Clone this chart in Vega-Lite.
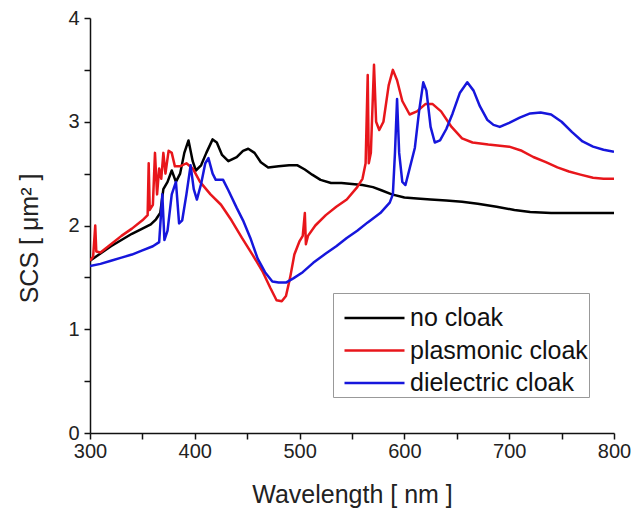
{
  "$schema": "https://vega.github.io/schema/vega-lite/v6.json",
  "width": 524,
  "height": 415,
  "autosize": {"type": "none"},
  "padding": {"left": 90, "top": 18, "right": 19, "bottom": 75},
  "background": "white",
  "config": {
    "view": {"stroke": null},
    "font": "Liberation Sans",
    "axis": {
      "domainColor": "#111",
      "domainWidth": 1.5,
      "tickColor": "#111",
      "tickWidth": 1.5,
      "tickSize": 6,
      "grid": false,
      "labelFont": "Liberation Sans",
      "labelFontSize": 20,
      "labelColor": "#222",
      "titleFont": "Liberation Sans",
      "titleFontSize": 25,
      "titleFontWeight": "normal",
      "titleColor": "#222"
    }
  },
  "data": {
    "values": [
      {"w": 300, "s": 1.66, "c": "no cloak"},
      {"w": 310, "s": 1.73, "c": "no cloak"},
      {"w": 320, "s": 1.8, "c": "no cloak"},
      {"w": 330, "s": 1.86, "c": "no cloak"},
      {"w": 340, "s": 1.92, "c": "no cloak"},
      {"w": 350, "s": 1.97, "c": "no cloak"},
      {"w": 358, "s": 2.01, "c": "no cloak"},
      {"w": 363, "s": 2.06, "c": "no cloak"},
      {"w": 367, "s": 2.12, "c": "no cloak"},
      {"w": 370, "s": 2.35, "c": "no cloak"},
      {"w": 374, "s": 2.42, "c": "no cloak"},
      {"w": 378, "s": 2.53, "c": "no cloak"},
      {"w": 382, "s": 2.42, "c": "no cloak"},
      {"w": 386, "s": 2.5, "c": "no cloak"},
      {"w": 390, "s": 2.7, "c": "no cloak"},
      {"w": 394, "s": 2.82, "c": "no cloak"},
      {"w": 398, "s": 2.62, "c": "no cloak"},
      {"w": 401, "s": 2.53, "c": "no cloak"},
      {"w": 406, "s": 2.58, "c": "no cloak"},
      {"w": 411, "s": 2.7, "c": "no cloak"},
      {"w": 417, "s": 2.83, "c": "no cloak"},
      {"w": 421, "s": 2.8, "c": "no cloak"},
      {"w": 426, "s": 2.68, "c": "no cloak"},
      {"w": 432, "s": 2.62, "c": "no cloak"},
      {"w": 440, "s": 2.66, "c": "no cloak"},
      {"w": 446, "s": 2.72, "c": "no cloak"},
      {"w": 451, "s": 2.74, "c": "no cloak"},
      {"w": 457, "s": 2.7, "c": "no cloak"},
      {"w": 463, "s": 2.61, "c": "no cloak"},
      {"w": 470, "s": 2.56, "c": "no cloak"},
      {"w": 480, "s": 2.57, "c": "no cloak"},
      {"w": 490, "s": 2.58, "c": "no cloak"},
      {"w": 498, "s": 2.58, "c": "no cloak"},
      {"w": 505, "s": 2.54, "c": "no cloak"},
      {"w": 512, "s": 2.49, "c": "no cloak"},
      {"w": 520, "s": 2.44, "c": "no cloak"},
      {"w": 530, "s": 2.41, "c": "no cloak"},
      {"w": 540, "s": 2.41, "c": "no cloak"},
      {"w": 550, "s": 2.4, "c": "no cloak"},
      {"w": 560, "s": 2.39, "c": "no cloak"},
      {"w": 570, "s": 2.37, "c": "no cloak"},
      {"w": 578, "s": 2.34, "c": "no cloak"},
      {"w": 588, "s": 2.3, "c": "no cloak"},
      {"w": 600, "s": 2.27, "c": "no cloak"},
      {"w": 612, "s": 2.26, "c": "no cloak"},
      {"w": 625, "s": 2.25, "c": "no cloak"},
      {"w": 640, "s": 2.24, "c": "no cloak"},
      {"w": 655, "s": 2.23, "c": "no cloak"},
      {"w": 670, "s": 2.21, "c": "no cloak"},
      {"w": 688, "s": 2.18, "c": "no cloak"},
      {"w": 705, "s": 2.15, "c": "no cloak"},
      {"w": 720, "s": 2.13, "c": "no cloak"},
      {"w": 740, "s": 2.12, "c": "no cloak"},
      {"w": 760, "s": 2.12, "c": "no cloak"},
      {"w": 780, "s": 2.12, "c": "no cloak"},
      {"w": 800, "s": 2.12, "c": "no cloak"},

      {"w": 300, "s": 1.66, "c": "plasmonic cloak"},
      {"w": 303, "s": 1.7, "c": "plasmonic cloak"},
      {"w": 305, "s": 2.0, "c": "plasmonic cloak"},
      {"w": 306, "s": 1.75, "c": "plasmonic cloak"},
      {"w": 310, "s": 1.74, "c": "plasmonic cloak"},
      {"w": 320, "s": 1.82, "c": "plasmonic cloak"},
      {"w": 330, "s": 1.9, "c": "plasmonic cloak"},
      {"w": 340, "s": 1.97, "c": "plasmonic cloak"},
      {"w": 350, "s": 2.05, "c": "plasmonic cloak"},
      {"w": 355, "s": 2.1, "c": "plasmonic cloak"},
      {"w": 356, "s": 2.6, "c": "plasmonic cloak"},
      {"w": 357, "s": 2.15, "c": "plasmonic cloak"},
      {"w": 360, "s": 2.2, "c": "plasmonic cloak"},
      {"w": 362, "s": 2.7, "c": "plasmonic cloak"},
      {"w": 364, "s": 2.3, "c": "plasmonic cloak"},
      {"w": 366, "s": 2.55, "c": "plasmonic cloak"},
      {"w": 368, "s": 2.45, "c": "plasmonic cloak"},
      {"w": 370, "s": 2.7, "c": "plasmonic cloak"},
      {"w": 372, "s": 2.5, "c": "plasmonic cloak"},
      {"w": 375, "s": 2.72, "c": "plasmonic cloak"},
      {"w": 378, "s": 2.7, "c": "plasmonic cloak"},
      {"w": 381, "s": 2.57, "c": "plasmonic cloak"},
      {"w": 386, "s": 2.57, "c": "plasmonic cloak"},
      {"w": 392, "s": 2.6, "c": "plasmonic cloak"},
      {"w": 398, "s": 2.55, "c": "plasmonic cloak"},
      {"w": 405, "s": 2.42, "c": "plasmonic cloak"},
      {"w": 415, "s": 2.3, "c": "plasmonic cloak"},
      {"w": 425, "s": 2.2, "c": "plasmonic cloak"},
      {"w": 435, "s": 2.05, "c": "plasmonic cloak"},
      {"w": 445, "s": 1.88, "c": "plasmonic cloak"},
      {"w": 455, "s": 1.72, "c": "plasmonic cloak"},
      {"w": 465, "s": 1.55, "c": "plasmonic cloak"},
      {"w": 472, "s": 1.4, "c": "plasmonic cloak"},
      {"w": 478, "s": 1.28, "c": "plasmonic cloak"},
      {"w": 483, "s": 1.27, "c": "plasmonic cloak"},
      {"w": 487, "s": 1.32, "c": "plasmonic cloak"},
      {"w": 491, "s": 1.5, "c": "plasmonic cloak"},
      {"w": 495, "s": 1.72, "c": "plasmonic cloak"},
      {"w": 500, "s": 1.85, "c": "plasmonic cloak"},
      {"w": 503, "s": 1.9, "c": "plasmonic cloak"},
      {"w": 505, "s": 2.12, "c": "plasmonic cloak"},
      {"w": 506, "s": 1.82, "c": "plasmonic cloak"},
      {"w": 508, "s": 1.9, "c": "plasmonic cloak"},
      {"w": 515, "s": 2.0, "c": "plasmonic cloak"},
      {"w": 525, "s": 2.1, "c": "plasmonic cloak"},
      {"w": 535, "s": 2.18, "c": "plasmonic cloak"},
      {"w": 545, "s": 2.25, "c": "plasmonic cloak"},
      {"w": 555, "s": 2.37, "c": "plasmonic cloak"},
      {"w": 560, "s": 2.45, "c": "plasmonic cloak"},
      {"w": 563, "s": 2.6, "c": "plasmonic cloak"},
      {"w": 565, "s": 3.45, "c": "plasmonic cloak"},
      {"w": 566, "s": 2.6, "c": "plasmonic cloak"},
      {"w": 568, "s": 2.7, "c": "plasmonic cloak"},
      {"w": 571, "s": 3.55, "c": "plasmonic cloak"},
      {"w": 573, "s": 3.0, "c": "plasmonic cloak"},
      {"w": 576, "s": 2.92, "c": "plasmonic cloak"},
      {"w": 580, "s": 3.0, "c": "plasmonic cloak"},
      {"w": 585, "s": 3.35, "c": "plasmonic cloak"},
      {"w": 589, "s": 3.5, "c": "plasmonic cloak"},
      {"w": 593, "s": 3.4, "c": "plasmonic cloak"},
      {"w": 598, "s": 3.2, "c": "plasmonic cloak"},
      {"w": 605, "s": 3.07, "c": "plasmonic cloak"},
      {"w": 612, "s": 3.1, "c": "plasmonic cloak"},
      {"w": 620, "s": 3.17, "c": "plasmonic cloak"},
      {"w": 627, "s": 3.17, "c": "plasmonic cloak"},
      {"w": 635, "s": 3.1, "c": "plasmonic cloak"},
      {"w": 645, "s": 2.95, "c": "plasmonic cloak"},
      {"w": 655, "s": 2.84, "c": "plasmonic cloak"},
      {"w": 665, "s": 2.8, "c": "plasmonic cloak"},
      {"w": 680, "s": 2.78, "c": "plasmonic cloak"},
      {"w": 700, "s": 2.76, "c": "plasmonic cloak"},
      {"w": 712, "s": 2.72, "c": "plasmonic cloak"},
      {"w": 723, "s": 2.66, "c": "plasmonic cloak"},
      {"w": 735, "s": 2.61, "c": "plasmonic cloak"},
      {"w": 746, "s": 2.56, "c": "plasmonic cloak"},
      {"w": 757, "s": 2.52, "c": "plasmonic cloak"},
      {"w": 768, "s": 2.49, "c": "plasmonic cloak"},
      {"w": 780, "s": 2.46, "c": "plasmonic cloak"},
      {"w": 790, "s": 2.45, "c": "plasmonic cloak"},
      {"w": 800, "s": 2.45, "c": "plasmonic cloak"},

      {"w": 300, "s": 1.61, "c": "dielectric cloak"},
      {"w": 310, "s": 1.63, "c": "dielectric cloak"},
      {"w": 320, "s": 1.66, "c": "dielectric cloak"},
      {"w": 330, "s": 1.69, "c": "dielectric cloak"},
      {"w": 340, "s": 1.72, "c": "dielectric cloak"},
      {"w": 350, "s": 1.76, "c": "dielectric cloak"},
      {"w": 360, "s": 1.8, "c": "dielectric cloak"},
      {"w": 366, "s": 1.84, "c": "dielectric cloak"},
      {"w": 369, "s": 2.3, "c": "dielectric cloak"},
      {"w": 371, "s": 1.86, "c": "dielectric cloak"},
      {"w": 374, "s": 1.95, "c": "dielectric cloak"},
      {"w": 378, "s": 2.3, "c": "dielectric cloak"},
      {"w": 382, "s": 2.42, "c": "dielectric cloak"},
      {"w": 385, "s": 2.02, "c": "dielectric cloak"},
      {"w": 388, "s": 2.05, "c": "dielectric cloak"},
      {"w": 392, "s": 2.3, "c": "dielectric cloak"},
      {"w": 396, "s": 2.58, "c": "dielectric cloak"},
      {"w": 399, "s": 2.35, "c": "dielectric cloak"},
      {"w": 402, "s": 2.25, "c": "dielectric cloak"},
      {"w": 406, "s": 2.4, "c": "dielectric cloak"},
      {"w": 410, "s": 2.6, "c": "dielectric cloak"},
      {"w": 413, "s": 2.65, "c": "dielectric cloak"},
      {"w": 417, "s": 2.5, "c": "dielectric cloak"},
      {"w": 420, "s": 2.44, "c": "dielectric cloak"},
      {"w": 427, "s": 2.44, "c": "dielectric cloak"},
      {"w": 432, "s": 2.34, "c": "dielectric cloak"},
      {"w": 440, "s": 2.17, "c": "dielectric cloak"},
      {"w": 446, "s": 2.05, "c": "dielectric cloak"},
      {"w": 453, "s": 1.88, "c": "dielectric cloak"},
      {"w": 460, "s": 1.68, "c": "dielectric cloak"},
      {"w": 467, "s": 1.55, "c": "dielectric cloak"},
      {"w": 474, "s": 1.46, "c": "dielectric cloak"},
      {"w": 480, "s": 1.45, "c": "dielectric cloak"},
      {"w": 487, "s": 1.45, "c": "dielectric cloak"},
      {"w": 494, "s": 1.49, "c": "dielectric cloak"},
      {"w": 503, "s": 1.55, "c": "dielectric cloak"},
      {"w": 513, "s": 1.64, "c": "dielectric cloak"},
      {"w": 525, "s": 1.73, "c": "dielectric cloak"},
      {"w": 535, "s": 1.8, "c": "dielectric cloak"},
      {"w": 545, "s": 1.88, "c": "dielectric cloak"},
      {"w": 555, "s": 1.95, "c": "dielectric cloak"},
      {"w": 565, "s": 2.03, "c": "dielectric cloak"},
      {"w": 577, "s": 2.12, "c": "dielectric cloak"},
      {"w": 586, "s": 2.22, "c": "dielectric cloak"},
      {"w": 589, "s": 2.3, "c": "dielectric cloak"},
      {"w": 591, "s": 2.7, "c": "dielectric cloak"},
      {"w": 593, "s": 3.22, "c": "dielectric cloak"},
      {"w": 595, "s": 2.7, "c": "dielectric cloak"},
      {"w": 598, "s": 2.42, "c": "dielectric cloak"},
      {"w": 601, "s": 2.39, "c": "dielectric cloak"},
      {"w": 605, "s": 2.55, "c": "dielectric cloak"},
      {"w": 610, "s": 2.75, "c": "dielectric cloak"},
      {"w": 614, "s": 3.1, "c": "dielectric cloak"},
      {"w": 618, "s": 3.38, "c": "dielectric cloak"},
      {"w": 621, "s": 3.3, "c": "dielectric cloak"},
      {"w": 625, "s": 2.95, "c": "dielectric cloak"},
      {"w": 629, "s": 2.8, "c": "dielectric cloak"},
      {"w": 634, "s": 2.82, "c": "dielectric cloak"},
      {"w": 640, "s": 2.93, "c": "dielectric cloak"},
      {"w": 646, "s": 3.08, "c": "dielectric cloak"},
      {"w": 653, "s": 3.28, "c": "dielectric cloak"},
      {"w": 660, "s": 3.38, "c": "dielectric cloak"},
      {"w": 666, "s": 3.3, "c": "dielectric cloak"},
      {"w": 672, "s": 3.15, "c": "dielectric cloak"},
      {"w": 679, "s": 3.02, "c": "dielectric cloak"},
      {"w": 685, "s": 2.97, "c": "dielectric cloak"},
      {"w": 691, "s": 2.95, "c": "dielectric cloak"},
      {"w": 700, "s": 2.99, "c": "dielectric cloak"},
      {"w": 710, "s": 3.04, "c": "dielectric cloak"},
      {"w": 720, "s": 3.08, "c": "dielectric cloak"},
      {"w": 730, "s": 3.09, "c": "dielectric cloak"},
      {"w": 740, "s": 3.07, "c": "dielectric cloak"},
      {"w": 750, "s": 3.0, "c": "dielectric cloak"},
      {"w": 760, "s": 2.9, "c": "dielectric cloak"},
      {"w": 770, "s": 2.81, "c": "dielectric cloak"},
      {"w": 780, "s": 2.76, "c": "dielectric cloak"},
      {"w": 790, "s": 2.73, "c": "dielectric cloak"},
      {"w": 800, "s": 2.71, "c": "dielectric cloak"}
    ]
  },
  "mark": {"type": "line", "strokeWidth": 2.5, "strokeJoin": "round", "clip": true},
  "encoding": {
    "x": {
      "field": "w",
      "type": "quantitative",
      "scale": {"domain": [300, 800], "nice": false, "zero": false},
      "axis": {
        "title": "Wavelength [ nm ]",
        "values": [300, 350, 400, 450, 500, 550, 600, 650, 700, 750, 800],
        "labelExpr": "datum.value % 100 === 0 ? format(datum.value, 'd') : ''",
        "labelPadding": 2,
        "titlePadding": 21,
        "labelFlush": false,
        "labelOverlap": false
      }
    },
    "y": {
      "field": "s",
      "type": "quantitative",
      "scale": {"domain": [0, 4], "nice": false},
      "axis": {
        "title": "SCS [ μm² ]",
        "titleY": 220,
        "values": [0, 0.5, 1, 1.5, 2, 2.5, 3, 3.5, 4],
        "labelExpr": "datum.value % 1 === 0 ? format(datum.value, 'd') : ''",
        "labelPadding": 5,
        "titlePadding": 25,
        "labelFlush": false,
        "labelOverlap": false
      }
    },
    "color": {
      "field": "c",
      "type": "nominal",
      "scale": {
        "domain": ["no cloak", "plasmonic cloak", "dielectric cloak"],
        "range": ["#000000", "#e8161b", "#1616dc"]
      },
      "legend": {
        "title": " ",
        "titleFontSize": 4,
        "titlePadding": 7.5,
        "orient": "none",
        "legendX": 243,
        "legendY": 275,
        "symbolType": "M-0.2,0H5.8",
        "symbolSize": 400,
        "symbolStrokeWidth": 2.5,
        "labelFont": "Liberation Sans",
        "labelFontSize": 25,
        "labelColor": "#111",
        "labelOffset": 51,
        "labelLimit": 400,
        "labelExpr": "datum.label + ' '",
        "rowPadding": 6.5,
        "padding": 1,
        "strokeColor": "#999",
        "fillColor": "white"
      }
    }
  }
}
